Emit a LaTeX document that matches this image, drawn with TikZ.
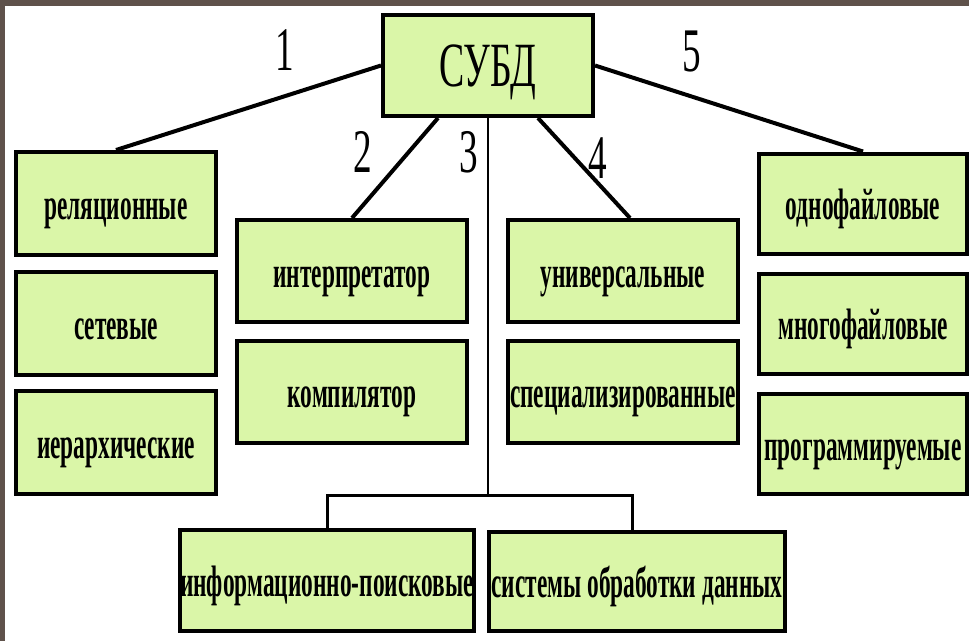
\documentclass[tikz,border=0pt]{standalone}
\usepackage{fontspec}
\setmainfont[FakeStretch=0.6]{Liberation Serif}
\newfontfamily\boxfont[FakeStretch=0.53]{Liberation Serif}
\usepackage{xcolor}
\definecolor{boxgreen}{RGB}{218,246,168}
\definecolor{framebrown}{RGB}{95,82,75}

\begin{document}
\begin{tikzpicture}[x=1pt,y=-1pt,
		kind/.style={draw,line width=4pt,fill=boxgreen,inner sep=0pt,
			minimum width=200pt,minimum height=103pt,
			font=\boxfont\fontsize{44}{44}\selectfont\bfseries,text height=32pt,text depth=0pt},
		num/.style={font=\fontsize{62}{62}\selectfont}]
		\useasboundingbox (0,0) rectangle (969,641);
		\fill[framebrown] (0,0) rectangle (969,6);
		\fill[framebrown] (0,0) rectangle (5,641);
		%
		\node[kind,minimum width=210pt,minimum height=101pt,text height=,text depth=0pt,
			font=\fontsize{63}{63}\selectfont] (subd) at (488,65.5) {СУБД};
		%
		\node[kind] (rel) at (116,203.5) {реляционные};
		\node[kind] (net) at (116,323.5) {сетевые};
		\node[kind] (hier) at (116,442.5) {иерархические};
		%
		\node[kind,minimum width=230pt,minimum height=102pt] (interp) at (352,271) {интерпретатор};
		\node[kind,minimum width=230pt,minimum height=102pt] (comp) at (352,391.5) {компилятор};
		\node[kind,minimum width=230pt,minimum height=102pt] (univ) at (623,271) {универсальные};
		\node[kind,minimum width=230pt,minimum height=102pt] (spec) at (623,391.5) {специализированные};
		%
		\node[kind,minimum width=208pt,minimum height=100pt] (one) at (863,203.5) {однофайловые};
		\node[kind,minimum width=208pt,minimum height=100pt] (multi) at (863,323.5) {многофайловые};
		\node[kind,minimum width=208pt,minimum height=100pt] (prog) at (863,444) {программируемые};
		%
		\node[kind,minimum width=294pt,minimum height=101pt] (info) at (327,580.5) {информационно-поисковые};
		\node[kind,minimum width=296pt,minimum height=99pt] (sys) at (637,581.5) {системы обработки данных};
		%
		\coordinate (hub) at (488,495);
		\path[draw,line width=4pt]
		(subd.west) edge (rel.north)
		(subd.east) edge (one.north)
		([xshift=-50pt]subd.south) edge (interp.north)
		([xshift=50pt]subd.south) edge ([xshift=7pt]univ.north);
		\draw[line width=2.5pt] (subd.south) -- (hub);
		\draw[line width=3pt] (info.north) -- (info.north |- hub) -- ([xshift=-5pt]sys.north |- hub)
		-- ([xshift=-5pt]sys.north);
		%
		\node[num] (n1) at (285,50) {1};
		\node[num] (n2) at (363,152) {2};
		\node[num] (n3) at (469,152) {3};
		\node[num] (n4) at (598,158) {4};
		\node[num] (n5) at (692,51) {5};
	\end{tikzpicture}
\end{document}
